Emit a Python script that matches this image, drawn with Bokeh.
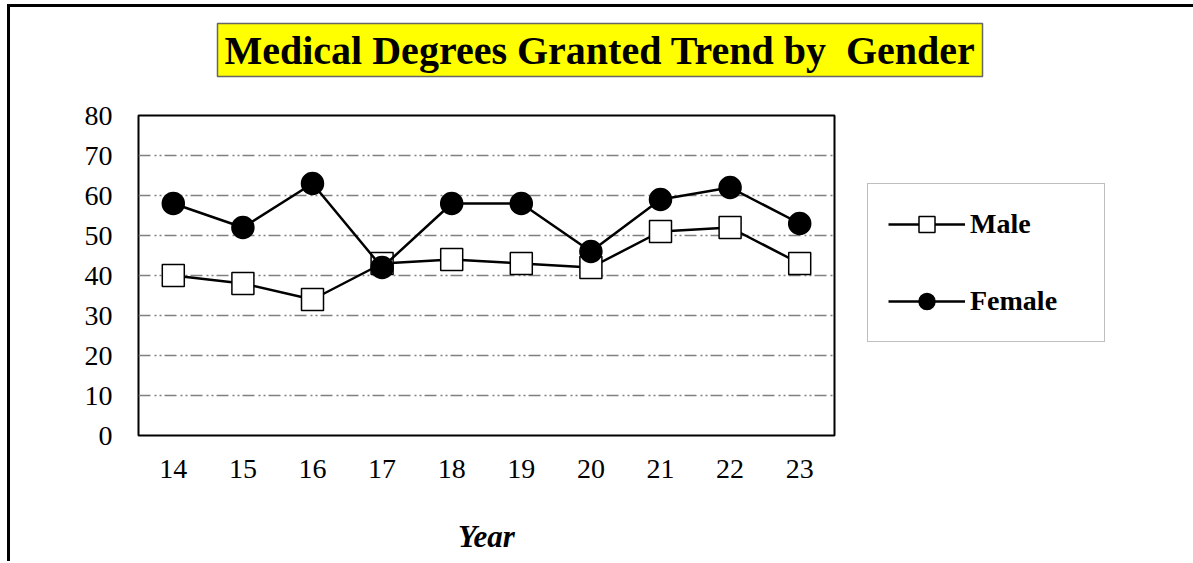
from bokeh.plotting import figure
from bokeh.models import Legend, LegendItem, FixedTicker, Range1d, Title
from bokeh.embed import file_html
from bokeh.resources import INLINE

years = [14, 15, 16, 17, 18, 19, 20, 21, 22, 23]
male = [40, 38, 34, 43, 44, 43, 42, 51, 52, 43]
female = [58, 52, 63, 42, 58, 58, 46, 59, 62, 53]
y_ticks = [0, 10, 20, 30, 40, 50, 60, 70, 80]
title_text = "Medical Degrees Granted Trend by  Gender"
x_title = "Year"

FONT = "Liberation Serif"

p = figure(frame_width=696, frame_height=320,
           min_border_left=128, min_border_right=358,
           min_border_top=108, min_border_bottom=126,
           x_range=Range1d(13.5, 23.5), y_range=Range1d(0, 80),
           output_backend="svg", toolbar_location=None)

p.styles = {"border-top": "3px solid black", "border-left": "3px solid black",
            "margin-left": "7px", "margin-top": "4px"}

# spacer between the plot frame and the title box
p.add_layout(Title(text=" ", text_font_size="1px", standoff=35), "above")

# SVG collapses repeated spaces; keep the double space visible
shown_title = title_text.replace("  ", " \u00a0")
p.title = Title(text=shown_title, align="left", offset=79,
                text_font=FONT, text_font_size="40px", text_font_style="bold",
                text_color="black", background_fill_color="yellow",
                border_line_color="#666666", border_line_width=1.5,
                standoff=2, padding=(7, 4))

p.outline_line_color = "black"
p.outline_line_width = 2
p.background_fill_color = "white"
p.border_fill_color = "white"

p.xgrid.visible = False
p.ygrid.ticker = FixedTicker(ticks=y_ticks[1:-1])
p.ygrid.grid_line_color = "#808080"
p.ygrid.grid_line_width = 1.3
p.ygrid.grid_line_dash = "12 4 2 3 2 3"

p.yaxis.ticker = FixedTicker(ticks=y_ticks)
p.xaxis.ticker = FixedTicker(ticks=years)
for ax in (p.xaxis, p.yaxis):
    ax.axis_line_color = None
    ax.major_tick_line_color = None
    ax.minor_tick_line_color = None
    ax.major_label_text_font = FONT
    ax.major_label_text_font_size = "28px"
    ax.major_label_text_color = "black"
p.yaxis.major_label_standoff = 20
p.xaxis.major_label_standoff = 18
p.xaxis.axis_label = x_title
p.xaxis.axis_label_text_font = FONT
p.xaxis.axis_label_text_font_size = "31px"
p.xaxis.axis_label_text_font_style = "bold italic"
p.xaxis.axis_label_text_color = "black"
p.xaxis.axis_label_standoff = 38

l1 = p.line(years, male, line_color="black", line_width=2.5)
s1 = p.scatter(years, male, marker="square", size=22, fill_color="white",
               line_color="black", line_width=1.5)
l2 = p.line(years, female, line_color="black", line_width=2.5)
s2 = p.scatter(years, female, marker="circle", size=22, fill_color="black",
               line_color="black", line_width=1.5)

legend = Legend(items=[LegendItem(label="Male", renderers=[l1, s1]),
                       LegendItem(label="Female", renderers=[l2, s2])],
                location=(33, 93), orientation="vertical",
                padding=20, spacing=37, glyph_width=77, glyph_height=40,
                label_height=40, label_width=114, label_standoff=5,
                label_text_font=FONT, label_text_font_size="28px",
                label_text_font_style="bold", label_text_color="black",
                border_line_color="#808080", border_line_width=1.5,
                background_fill_color="white", background_fill_alpha=1.0,
                margin=0)
p.add_layout(legend, "right")

open("out.html", "w").write(file_html(p, INLINE))
